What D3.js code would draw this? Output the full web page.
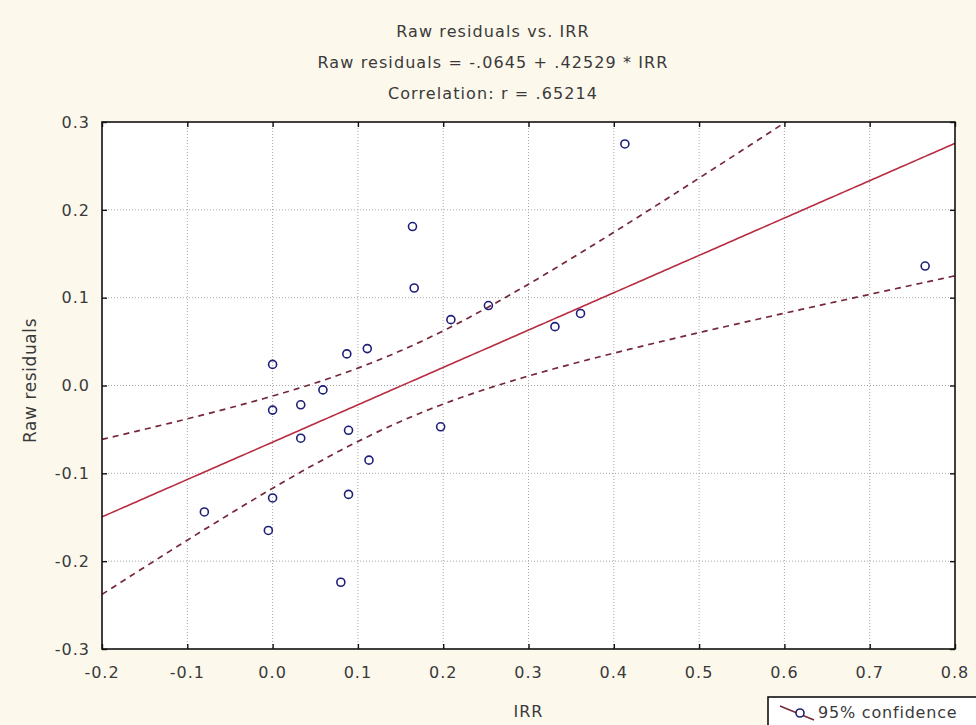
<!DOCTYPE html>
<html>
<head>
<meta charset="utf-8">
<script src="https://cdn.jsdelivr.net/npm/d3@7"></script>
<style>
  body { margin: 0; background: #fcf8ec; }
  svg { display: block; }
  text { font-family: "DejaVu Sans", sans-serif; fill: #3a3a3a; }
</style>
</head>
<body>
<script>
// Data
var irr = [0.000, 0.087, 0.111, 0.059, 0.000, 0.033, 0.033, 0.089, 0.113, 0.089,
  0.000, -0.080, -0.005, 0.080, 0.413, 0.164, 0.166, 0.209, 0.253, 0.331,
  0.361, 0.765, 0.197];
var residuals = [0.024, 0.036, 0.042, -0.005, -0.028, -0.022, -0.060, -0.051, -0.085, -0.124,
  -0.128, -0.144, -0.165, -0.224, 0.275, 0.181, 0.111, 0.075, 0.091, 0.067,
  0.082, 0.136, -0.047];

var xTicks = [-0.2, -0.1, 0.0, 0.1, 0.2, 0.3, 0.4, 0.5, 0.6, 0.7, 0.8];
var yTicks = [-0.3, -0.2, -0.1, 0.0, 0.1, 0.2, 0.3];

var titleLines = [
  "Raw residuals vs. IRR",
  "Raw residuals = -.0645 + .42529 * IRR",
  "Correlation: r = .65214"
];

// regression coefficients printed in the title
var intercept = -0.0645, slope = 0.42529;
var tCrit = 2.0796; // t(0.975, n-2 = 21)

var W = 976, H = 725;
var margin = { top: 122, right: 21, bottom: 76, left: 102 };
var width = W - margin.left - margin.right,
  height = H - margin.top - margin.bottom;

// plain hyphen like the original, not the unicode minus
var fmt = function (d) { return d3.format(".1f")(d).replace("\u2212", "-"); };

var svg = d3.select("body").append("svg")
  .attr("width", W)
  .attr("height", H);

svg.append("rect").attr("width", W).attr("height", H).attr("fill", "#fcf8ec");

// titles
svg.selectAll(".title")
  .data(titleLines)
  .enter()
  .append("text")
  .attr("class", "title")
  .attr("x", 493)
  .attr("y", function (d, i) { return 37 + i * 31; })
  .attr("text-anchor", "middle")
  .style("font-size", "16px")
  .style("letter-spacing", "1.1px")
  .text(function (d) { return d; });

var g = svg.append("g").attr("transform", `translate(${margin.left},${margin.top})`);

var x = d3.scaleLinear().domain([-0.2, 0.8]).range([0, width]);
var y = d3.scaleLinear().domain([-0.3, 0.3]).range([height, 0]);

g.append("rect").attr("width", width).attr("height", height).attr("fill", "#fff");

g.append("clipPath").attr("id", "clip")
  .append("rect").attr("width", width).attr("height", height);

// dotted grid
g.append("g")
  .selectAll("line")
  .data(xTicks.slice(1, -1))
  .enter()
  .append("line")
  .attr("x1", function (d) { return x(d); })
  .attr("x2", function (d) { return x(d); })
  .attr("y1", 0)
  .attr("y2", height)
  .attr("stroke", "#a8a8a8")
  .attr("stroke-dasharray", "1,2");

g.append("g")
  .selectAll("line")
  .data(yTicks.slice(1, -1))
  .enter()
  .append("line")
  .attr("y1", function (d) { return y(d); })
  .attr("y2", function (d) { return y(d); })
  .attr("x1", 0)
  .attr("x2", width)
  .attr("stroke", "#a8a8a8")
  .attr("stroke-dasharray", "1,2");

// confidence band from the points
var n = irr.length;
var mx = d3.mean(irr);
var sxx = d3.sum(irr, function (v) { return (v - mx) * (v - mx); });
var sse = d3.sum(irr, function (v, i) {
  var e = residuals[i] - (intercept + slope * v);
  return e * e;
});
var s = Math.sqrt(sse / (n - 2));

function fit(v) { return intercept + slope * v; }
function half(v) { return tCrit * s * Math.sqrt(1 / n + (v - mx) * (v - mx) / sxx); }

var xs = d3.range(-0.2, 0.8001, 0.005);

var plot = g.append("g").attr("clip-path", "url(#clip)");

var line = d3.line()
  .x(function (d) { return x(d[0]); })
  .y(function (d) { return y(d[1]); });

plot.append("path")
  .datum(xs.map(function (v) { return [v, fit(v) + half(v)]; }))
  .attr("d", line)
  .attr("fill", "none")
  .attr("stroke", "#74283a")
  .attr("stroke-width", 1.7)
  .attr("stroke-dasharray", "6,5");

plot.append("path")
  .datum(xs.map(function (v) { return [v, fit(v) - half(v)]; }))
  .attr("d", line)
  .attr("fill", "none")
  .attr("stroke", "#74283a")
  .attr("stroke-width", 1.7)
  .attr("stroke-dasharray", "6,5");

plot.append("path")
  .datum(xs.map(function (v) { return [v, fit(v)]; }))
  .attr("d", line)
  .attr("fill", "none")
  .attr("stroke", "#b82c40")
  .attr("stroke-width", 1.6);

// points
plot.selectAll("circle")
  .data(irr)
  .enter()
  .append("circle")
  .attr("cx", function (d) { return x(d); })
  .attr("cy", function (d, i) { return y(residuals[i]); })
  .attr("r", 4)
  .attr("fill", "none")
  .attr("stroke", "#1e1e78")
  .attr("stroke-width", 1.6);

// frame
g.append("rect")
  .attr("width", width)
  .attr("height", height)
  .attr("fill", "none")
  .attr("stroke", "#111")
  .attr("stroke-width", 1.6);

// inner ticks on all four sides
function noLabels(axis) { return axis.tickValues(xTicks).tickSizeInner(-5).tickSizeOuter(0).tickFormat(""); }

g.append("g").attr("transform", `translate(0,${height})`)
  .call(noLabels(d3.axisBottom(x)));
g.append("g")
  .call(noLabels(d3.axisTop(x)));
g.append("g")
  .call(d3.axisLeft(y).tickValues(yTicks).tickSizeInner(-5).tickSizeOuter(0).tickFormat(""));
g.append("g").attr("transform", `translate(${width},0)`)
  .call(d3.axisRight(y).tickValues(yTicks).tickSizeInner(-5).tickSizeOuter(0).tickFormat(""));
g.selectAll(".domain").remove();
g.selectAll(".tick line").attr("stroke", "#111").attr("stroke-width", 1.4);

// tick labels
g.append("g")
  .selectAll("text")
  .data(xTicks)
  .enter()
  .append("text")
  .attr("x", function (d) { return x(d); })
  .attr("y", height + 29)
  .attr("text-anchor", "middle")
  .style("font-size", "16px")
  .style("letter-spacing", "1px")
  .text(fmt);

g.append("g")
  .selectAll("text")
  .data(yTicks)
  .enter()
  .append("text")
  .attr("x", -12)
  .attr("y", function (d) { return y(d); })
  .attr("dy", "0.36em")
  .attr("text-anchor", "end")
  .style("font-size", "16px")
  .style("letter-spacing", "1px")
  .text(fmt);

// axis titles
svg.append("text")
  .attr("x", margin.left + width / 2)
  .attr("y", 717)
  .attr("text-anchor", "middle")
  .style("font-size", "16px")
  .style("letter-spacing", "1px")
  .text("IRR");

svg.append("text")
  .attr("transform", `translate(36,${margin.top + height / 2 - 5}) rotate(-90)`)
  .attr("text-anchor", "middle")
  .style("font-size", "17px")
  .style("letter-spacing", "0.6px")
  .text("Raw residuals");

// legend
var leg = svg.append("g").attr("transform", "translate(768,697)");
leg.append("rect")
  .attr("width", 220)
  .attr("height", 40)
  .attr("fill", "#fff")
  .attr("stroke", "#111")
  .attr("stroke-width", 1.6);
leg.append("line")
  .attr("x1", 12).attr("y1", 9)
  .attr("x2", 46).attr("y2", 23)
  .attr("stroke", "#74283a")
  .attr("stroke-width", 1.4);
leg.append("circle")
  .attr("cx", 32).attr("cy", 16).attr("r", 4)
  .attr("fill", "#fff")
  .attr("stroke", "#1e1e78")
  .attr("stroke-width", 1.6);
leg.append("text")
  .attr("x", 50)
  .attr("y", 21)
  .style("font-size", "16px")
  .style("letter-spacing", "0.8px")
  .text("95% confidence");
</script>
</body>
</html>
